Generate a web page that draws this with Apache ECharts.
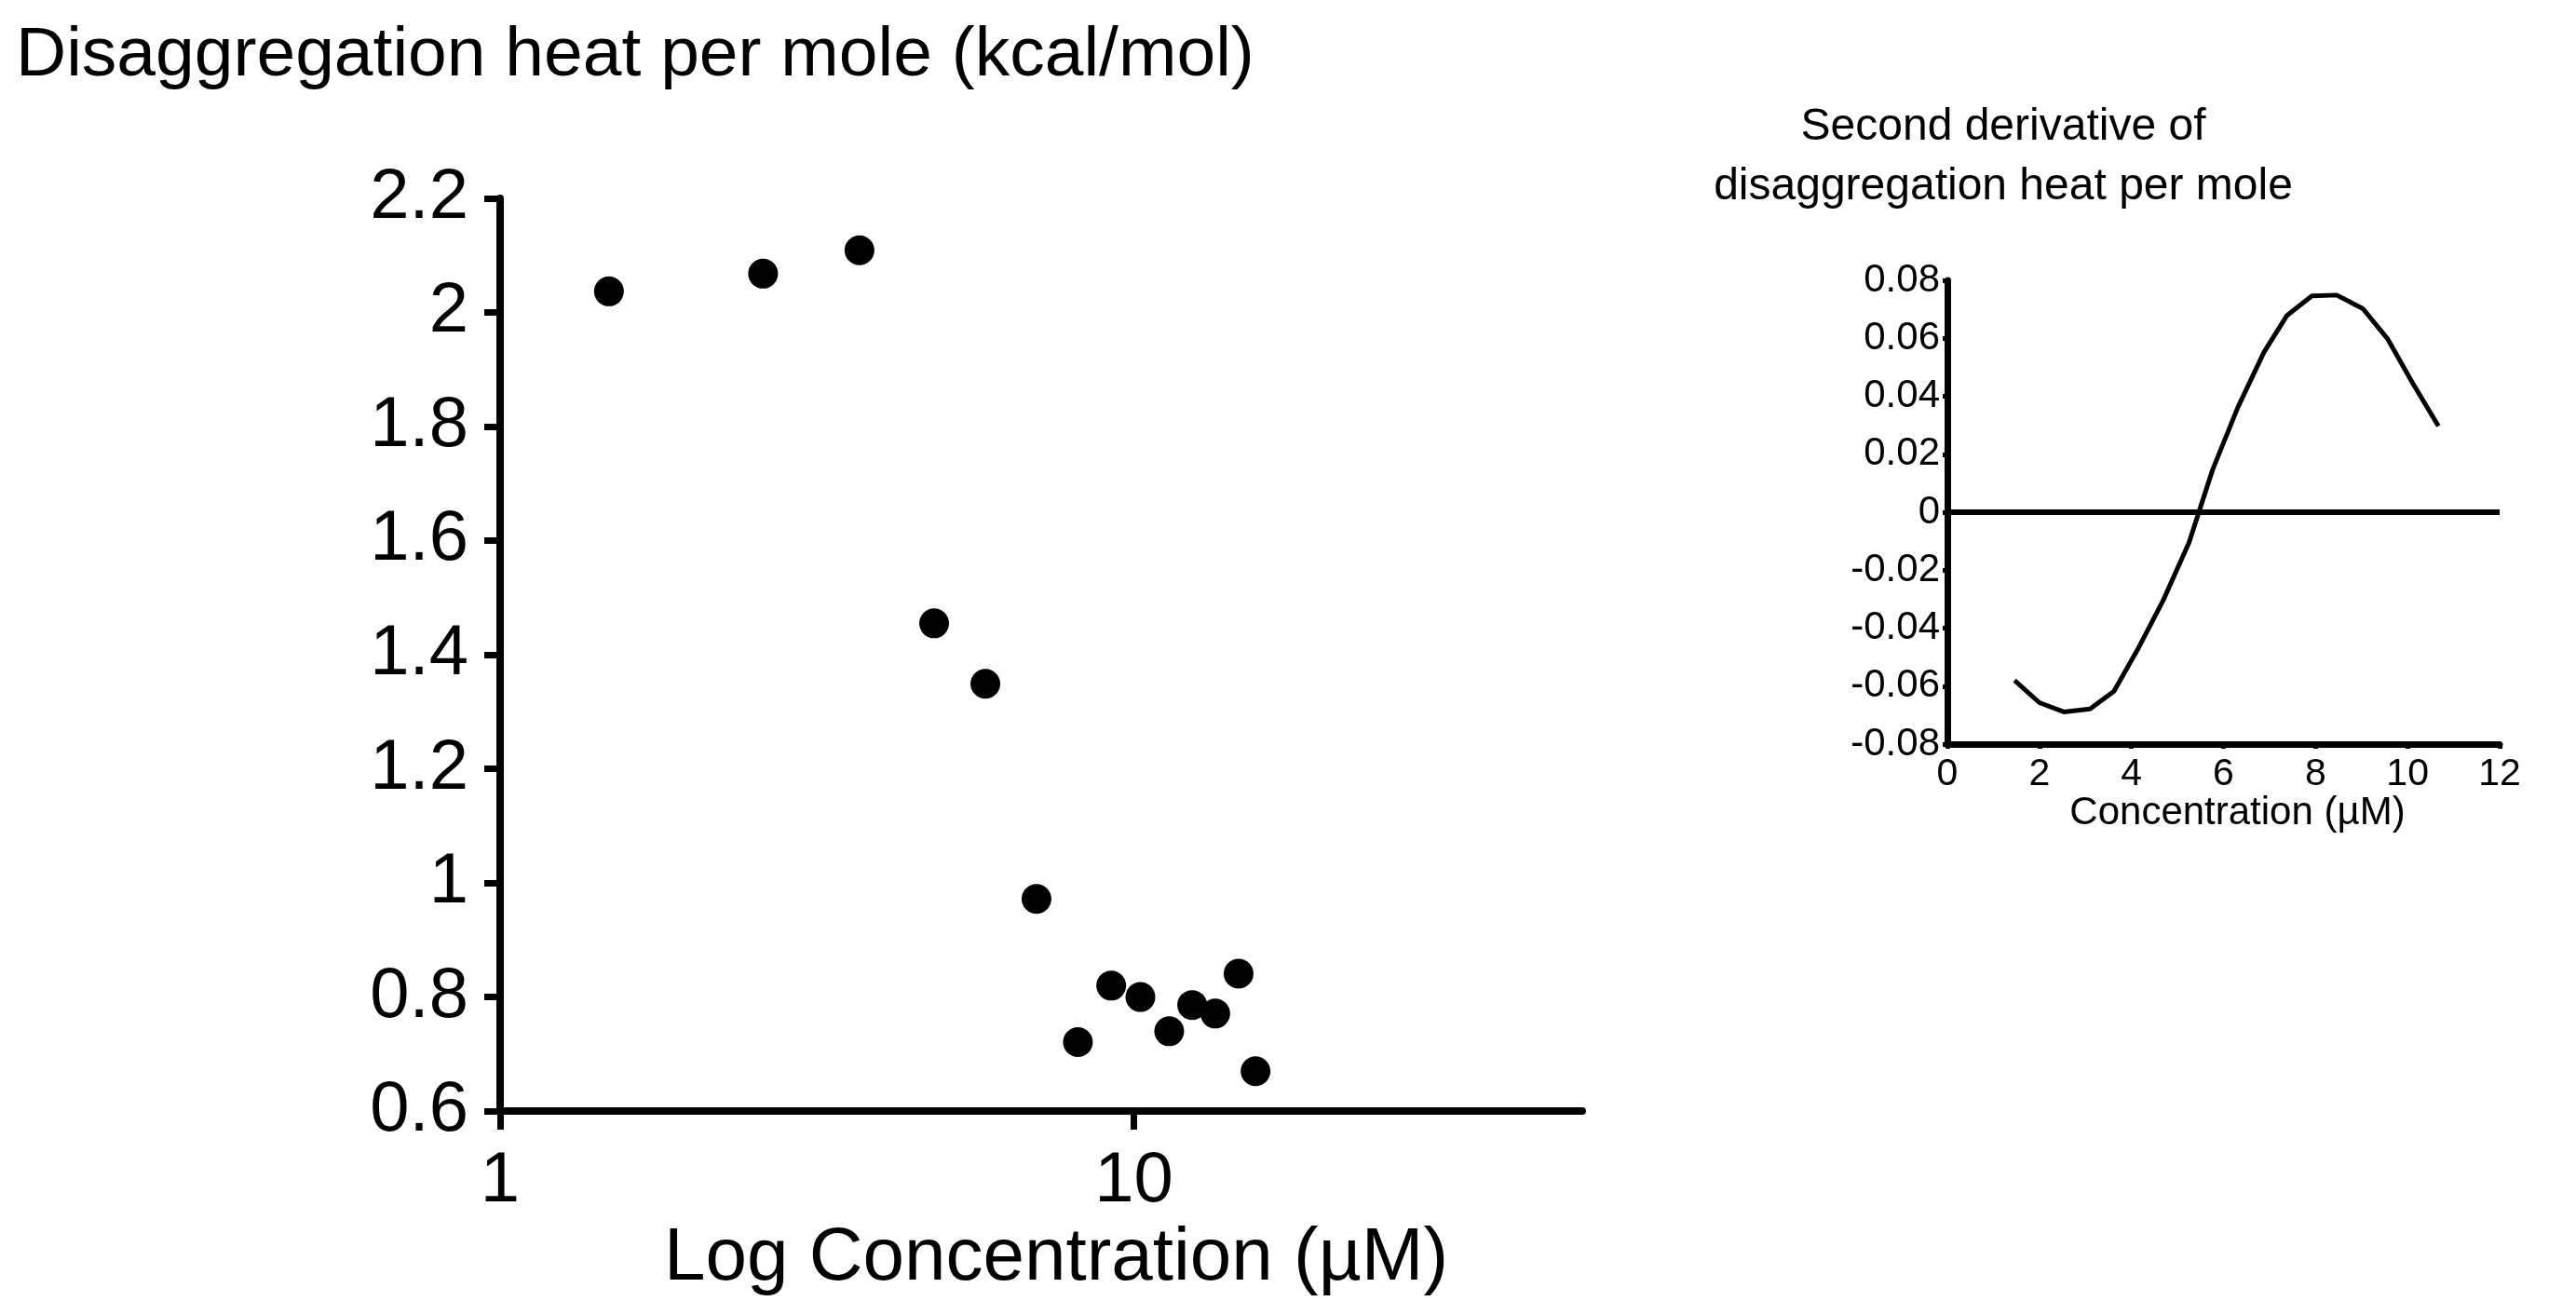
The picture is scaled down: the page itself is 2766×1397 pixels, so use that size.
<!DOCTYPE html>
<html>
<head>
<meta charset="utf-8">
<script src="https://cdn.jsdelivr.net/npm/echarts@6/dist/echarts.min.js"></script>
<style>
  html, body { margin: 0; padding: 0; background: #fff; }
  #chart { width: 2766px; height: 1397px; }
</style>
</head>
<body>
<div id="chart"></div>
<script>
// main panel: heat vs log concentration
const concentration = [1.485, 2.6, 3.69, 4.84, 5.83, 7.02, 8.16, 9.21, 10.24, 11.37, 12.36, 13.44, 14.63, 15.56];
const heat = [2.037, 2.068, 2.109, 1.455, 1.349, 0.972, 0.721, 0.82, 0.8, 0.74, 0.786, 0.771, 0.841, 0.67];
const logTicks = [1, 10];

// inset: second derivative
const derivX = [1.46, 2.0, 2.53, 3.1, 3.62, 4.13, 4.69, 5.25, 5.76, 6.31, 6.88, 7.38, 7.92, 8.46, 9.03, 9.57, 10.1, 10.67];
const derivY = [-0.058, -0.0657, -0.0689, -0.0679, -0.0618, -0.0475, -0.0304, -0.0105, 0.0145, 0.0361, 0.0552, 0.0679, 0.0746, 0.0749, 0.0702, 0.0597, 0.0448, 0.0297];

const FONT = 'Liberation Sans';

const chart = echarts.init(document.getElementById('chart'));

const option = {
  backgroundColor: '#fff',
  animation: false,
  title: [
    {
      text: 'Disaggregation heat per mole (kcal/mol)',
      left: 12, top: 18,
      textStyle: { fontFamily: FONT, fontSize: 75, fontWeight: 'normal', color: '#000', lineHeight: 75 }
    },
    {
      text: 'Second derivative of\ndisaggregation heat per mole',
      left: 2146, top: 100, textAlign: 'center',
      textStyle: { fontFamily: FONT, fontSize: 48, fontWeight: 'normal', color: '#000', lineHeight: 64 }
    }
  ],
  grid: [
    { left: 537, right: 1067, top: 213, bottom: 203 },
    { left: 2091, right: 82, top: 301, bottom: 598 }
  ],
  xAxis: [
    {
      gridIndex: 0, type: 'log', logBase: 10, min: 1, max: 51,
      name: 'Log Concentration (\u00b5M)', nameLocation: 'middle', nameGap: 97,
      nameTextStyle: { fontFamily: FONT, fontSize: 80, color: '#000', padding: [0, 0, 0, 32] },
      axisLine: { onZero: false, lineStyle: { color: '#000', width: 8 } },
      axisTick: { length: 20, lineStyle: { color: '#000', width: 7 }, customValues: logTicks },
      axisLabel: { fontFamily: FONT, fontSize: 76, color: '#000', margin: 38, customValues: logTicks },
      splitLine: { show: false }, minorTick: { show: false }
    },
    {
      gridIndex: 1, type: 'value', min: 0, max: 12, interval: 2,
      name: 'Concentration (\u00b5M)', nameLocation: 'middle', nameGap: 52,
      nameTextStyle: { fontFamily: FONT, fontSize: 42, color: '#000', padding: [0, 0, 0, 30] },
      axisLine: { onZero: false, lineStyle: { color: '#000', width: 7 } },
      axisTick: { length: 5, lineStyle: { color: '#000', width: 5 } },
      axisLabel: { fontFamily: FONT, fontSize: 41, color: '#000', margin: 12 },
      splitLine: { show: false }
    }
  ],
  yAxis: [
    {
      gridIndex: 0, type: 'value', min: 0.6, max: 2.2, interval: 0.2,
      axisLine: { show: true, onZero: false, lineStyle: { color: '#000', width: 8 } },
      axisTick: { show: true, length: 17, lineStyle: { color: '#000', width: 7 } },
      axisLabel: { fontFamily: FONT, fontSize: 76, color: '#000', margin: 34, formatter: v => String(+v.toFixed(1)) },
      splitLine: { show: false }
    },
    {
      gridIndex: 1, type: 'value', min: -0.08, max: 0.08, interval: 0.02,
      axisLine: { show: true, onZero: false, lineStyle: { color: '#000', width: 7 } },
      axisTick: { show: true, length: 5, lineStyle: { color: '#000', width: 5 } },
      axisLabel: { fontFamily: FONT, fontSize: 42, color: '#000', margin: 8, formatter: v => String(+v.toFixed(2)) },
      splitLine: { show: false }
    }
  ],
  series: [
    {
      type: 'scatter', xAxisIndex: 0, yAxisIndex: 0,
      symbol: 'circle', symbolSize: 32,
      itemStyle: { color: '#000', opacity: 1 },
      data: concentration.map((c, i) => [c, heat[i]])
    },
    {
      type: 'line', xAxisIndex: 1, yAxisIndex: 1,
      showSymbol: false, smooth: false,
      lineStyle: { color: '#000', width: 5 },
      data: derivX.map((c, i) => [c, derivY[i]]),
      markLine: {
        silent: true, symbol: 'none', label: { show: false },
        lineStyle: { color: '#000', width: 6, type: 'solid' },
        data: [{ yAxis: 0 }]
      }
    }
  ]
};

chart.setOption(option);
</script>
</body>
</html>
